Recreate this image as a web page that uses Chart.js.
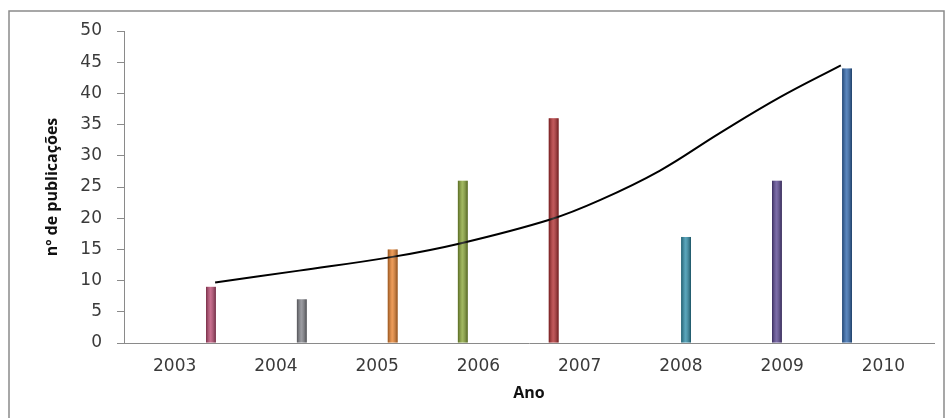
<!DOCTYPE html>
<html>
<head>
<meta charset="utf-8">
<title>Publicações por ano</title>
<script src="https://cdn.jsdelivr.net/npm/chart.js@4/dist/chart.umd.min.js"></script>
<style>
  html, body { margin: 0; padding: 0; background: #fff; }
  #wrap { width: 946px; height: 418px; }
</style>
</head>
<body>
<div id="wrap"><canvas id="pubChart"></canvas></div>
<script>
// publications per year
var anos = ['2003', '2004', '2005', '2006', '2007', '2008', '2009', '2010'];
var publicacoes = [9, 7, 15, 26, 36, 17, 26, 44];
var barColors = ['#b8466e', '#7e7f86', '#e8802a', '#86a332', '#b02a2c', '#2b8ba7', '#56428f', '#2c64ab'];
// order of the series inside each group (left to right)
var seriesOrder = ['2010', '2007', '2006', '2009', '2008', '2005', '2004', '2003'];

// trend curve (x in years)
var trendAnos = [2003.40, 2004.23, 2005.15, 2005.83, 2006.71, 2007.20, 2007.79, 2008.38, 2008.98, 2009.58];
var trendValores = [9.7, 11.6, 13.8, 16.0, 19.8, 22.9, 27.6, 33.6, 39.4, 44.5];

var yTicks = { min: 0, max: 50, step: 5 };

var TICK_FONT = "'DejaVu Sans', sans-serif";
var TITLE_FONT = "'Open Sans', 'DejaVu Sans', sans-serif";

var datasets = seriesOrder.map(function(ano) {
    var i = anos.indexOf(ano);
    return {
        type: 'bar',
        label: ano,
        data: anos.map(function(a, j) { return j === i ? publicacoes[i] : null; }),
        backgroundColor: barColors[i],
        borderWidth: 0,
        categoryPercentage: 0.82,
        barPercentage: 0.95,
        order: 2
    };
});

// the trend is put straight on the category axis (index units) so no extra x scale is needed
datasets.push({
    type: 'line',
    label: 'tendência',
    parsing: false,
    data: trendAnos.map(function(a, k) { return { x: a - Number(anos[0]), y: trendValores[k] }; }),
    borderColor: '#000',
    borderWidth: 2,
    pointRadius: 0,
    fill: false,
    tension: 0.4,
    order: 1
});

// cylinder shading on the bars + outer frame
var decorPlugin = {
    id: 'decor',
    afterDatasetsDraw: function(chart) {
        var c = chart.ctx;
        chart.data.datasets.forEach(function(ds, di) {
            if (ds.type !== 'bar') return;
            chart.getDatasetMeta(di).data.forEach(function(bar) {
                if (bar.skip || !isFinite(bar.y)) return;
                var l = bar.x - bar.width / 2, r = bar.x + bar.width / 2;
                var g = c.createLinearGradient(l, 0, r, 0);
                g.addColorStop(0, 'rgba(0,0,0,0.35)');
                g.addColorStop(0.45, 'rgba(255,255,255,0.22)');
                g.addColorStop(1, 'rgba(0,0,0,0.4)');
                c.save();
                c.fillStyle = g;
                c.fillRect(l, bar.y, bar.width, bar.base - bar.y);
                c.restore();
            });
        });
    },
    afterDraw: function(chart) {
        var c = chart.ctx;
        c.save();
        c.strokeStyle = '#8a8a8a';
        c.lineWidth = 1.5;
        c.strokeRect(9, 11, 935, 420);
        c.restore();
    }
};

var ctx = document.getElementById('pubChart').getContext('2d');
var chart = new Chart(ctx, {
    data: { labels: anos, datasets: datasets },
    options: {
        responsive: true,
        maintainAspectRatio: false,
        animation: false,
        layout: { padding: { left: 0, right: 12, top: 31, bottom: 0 } },
        plugins: {
            legend: { display: false },
            tooltip: { enabled: false }
        },
        scales: {
            x: {
                type: 'category',
                offset: true,
                grid: { display: false, drawTicks: false },
                border: { display: true, color: '#8a8a8a', width: 1 },
                ticks: { color: '#3a3a3a', font: { family: TICK_FONT, size: 17 }, padding: 13 },
                title: {
                    display: true,
                    text: 'Ano',
                    color: '#111',
                    font: { family: TITLE_FONT, size: 16, weight: 'bold' },
                    padding: { top: 0, bottom: 15 }
                },
                afterFit: function(scale) { scale.height = 75; }
            },
            y: {
                min: yTicks.min,
                max: yTicks.max,
                grid: { drawOnChartArea: false, drawTicks: true, tickLength: 7, color: '#8a8a8a' },
                border: { display: true, color: '#8a8a8a', width: 1 },
                ticks: { stepSize: yTicks.step, color: '#3a3a3a', font: { family: TICK_FONT, size: 17 }, padding: 15 },
                title: {
                    display: true,
                    text: 'nº de publicações',
                    color: '#111',
                    font: { family: TITLE_FONT, size: 16, weight: 'bold' },
                    padding: { top: 43, bottom: 0 }
                },
                afterFit: function(scale) { scale.width = 124; }
            }
        }
    },
    plugins: [decorPlugin]
});
</script>
</body>
</html>
